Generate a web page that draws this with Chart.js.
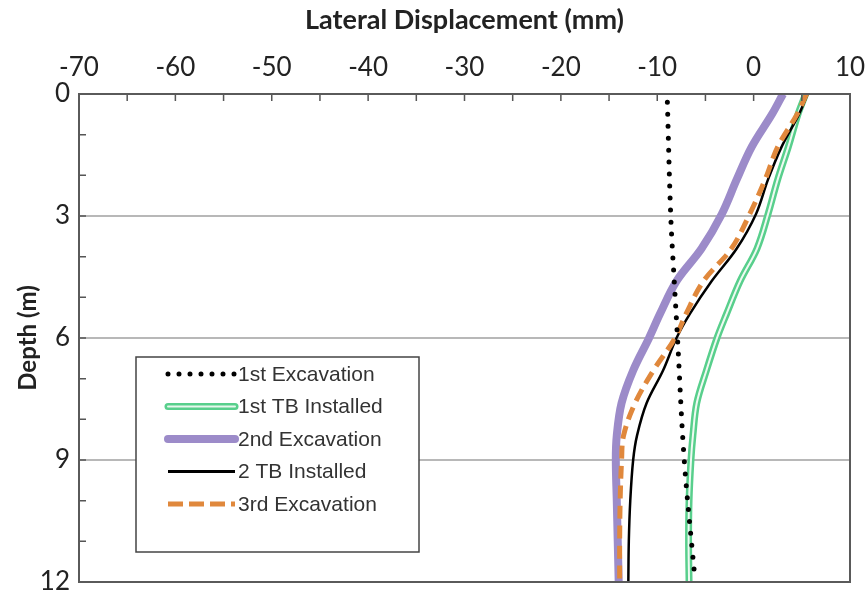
<!DOCTYPE html>
<html>
<head>
<meta charset="utf-8">
<script src="https://cdn.jsdelivr.net/npm/chart.js@4.4.1/dist/chart.umd.min.js"></script>
<style>
  body { margin: 0; background: #fff; }
  #wrap { width: 868px; height: 594px; }
</style>
</head>
<body>
<div id="wrap"><canvas id="profileChart" width="868" height="594"></canvas></div>
<script>
// depth (m) shared by the four measured curves
const depths = [0, 0.5, 1.3, 2.1, 2.95, 3.8, 4.6, 5.4, 6, 6.8, 7.6, 8.4, 9, 10, 11, 12];

const tbInstalled1 = [5.4, 4.6, 3.6, 2.5, 1.5, 0.35, -1.4, -2.8, -3.8, -4.9, -5.9, -6.3, -6.5, -6.7, -6.75, -6.7];
const excavation2 = [3.05, 1.9, -0.2, -1.75, -3.3, -5.4, -8.0, -9.7, -10.85, -12.5, -13.7, -14.2, -14.3, -14.2, -14.1, -14.0];
const tbInstalled2 = [5.6, 4.7, 2.9, 1.5, 0.25, -1.75, -4.35, -6.6, -8.0, -9.4, -11.1, -12.1, -12.5, -12.8, -12.95, -13.0];
const excavation3 = [5.5, 4.5, 2.5, 1.2, -0.4, -2.3, -5.2, -7.0, -8.15, -10.4, -12.3, -13.5, -13.7, -13.85, -13.9, -13.9];

// 1st excavation was read at its own depths
const exc1Depths = [0.2, 3, 4.75, 6, 9, 11.9];
const excavation1 = [-8.95, -8.6, -8.2, -7.9, -7.2, -6.1];

const xTicks = [-70, -60, -50, -40, -30, -20, -10, 0, 10];
const yTicks = [0, 3, 6, 9, 12];

const GREEN = "#58cf8c";
const PURPLE = "#9c8bc9";
const ORANGE = "#e0883c";

function pairs(xs, ys) {
  return xs.map((v, i) => ({ x: v, y: ys[i] }));
}

const legendItems = [
  { label: "1st Excavation", kind: "dots" },
  { label: "1st TB Installed", kind: "double" },
  { label: "2nd Excavation", kind: "thick" },
  { label: "2 TB Installed", kind: "solid" },
  { label: "3rd Excavation", kind: "dash" },
];

function strokeSample(ctx, kind, x0, x1, y) {
  ctx.save();
  ctx.beginPath();
  ctx.moveTo(x0, y);
  ctx.lineTo(x1, y);
  if (kind === "dots") {
    ctx.strokeStyle = "#000";
    ctx.lineWidth = 5;
    ctx.lineCap = "round";
    ctx.setLineDash([0, 11]);
    ctx.stroke();
  } else if (kind === "double") {
    ctx.lineCap = "round";
    ctx.strokeStyle = GREEN;
    ctx.lineWidth = 7;
    ctx.stroke();
    ctx.strokeStyle = "#e8f8ee";
    ctx.lineWidth = 2;
    ctx.stroke();
  } else if (kind === "thick") {
    ctx.lineCap = "round";
    ctx.strokeStyle = PURPLE;
    ctx.lineWidth = 8;
    ctx.stroke();
  } else if (kind === "solid") {
    ctx.strokeStyle = "#000";
    ctx.lineWidth = 3;
    ctx.stroke();
  } else {
    ctx.strokeStyle = ORANGE;
    ctx.lineWidth = 5;
    ctx.setLineDash([15, 6]);
    ctx.stroke();
  }
  ctx.restore();
}

const frameAndLegend = {
  id: "frameAndLegend",
  afterDraw(chart) {
    const ctx = chart.ctx;
    const area = chart.chartArea;
    const xs = chart.scales.x;
    const ys = chart.scales.y;

    ctx.save();
    // inward minor ticks
    ctx.strokeStyle = "#555";
    ctx.lineWidth = 1.5;
    ctx.beginPath();
    for (let v = -70; v <= 10; v += 5) {
      const px = xs.getPixelForValue(v);
      ctx.moveTo(px, area.top);
      ctx.lineTo(px, area.top + 7);
    }
    for (let d = 0; d <= 12; d += 1) {
      const py = ys.getPixelForValue(d);
      ctx.moveTo(area.left, py);
      ctx.lineTo(area.left + 7, py);
    }
    ctx.stroke();

    // plot frame
    ctx.strokeStyle = "#5a5a5a";
    ctx.lineWidth = 2;
    ctx.strokeRect(area.left, area.top, area.right - area.left, area.bottom - area.top);

    // legend box
    const bx = 136, by = 357, bw = 283, bh = 195;
    ctx.fillStyle = "#fff";
    ctx.fillRect(bx, by, bw, bh);
    ctx.strokeStyle = "#444";
    ctx.lineWidth = 1.5;
    ctx.strokeRect(bx, by, bw, bh);

    ctx.font = "21px 'Liberation Sans', Arial, sans-serif";
    ctx.fillStyle = "#333";
    ctx.textBaseline = "middle";
    legendItems.forEach((item, i) => {
      const y = 374 + i * 32.5;
      strokeSample(ctx, item.kind, 168, 235, y);
      ctx.fillText(item.label, 238, y + 1);
    });
    ctx.restore();
  },
};

const ctx = document.getElementById("profileChart").getContext("2d");

new Chart(ctx, {
  type: "scatter",
  data: {
    datasets: [
      {
        label: "1st Excavation",
        data: pairs(excavation1, exc1Depths),
        borderColor: "#000",
        borderWidth: 5,
        borderCapStyle: "round",
        borderDash: [0, 12],
        order: 0,
      },
      {
        label: "3rd Excavation",
        data: pairs(excavation3, depths),
        borderColor: ORANGE,
        borderWidth: 5,
        borderDash: [13, 7],
        order: 1,
      },
      {
        label: "2 TB Installed",
        data: pairs(tbInstalled2, depths),
        borderColor: "#000",
        borderWidth: 2.5,
        order: 2,
      },
      {
        label: "1st TB Installed (core)",
        data: pairs(tbInstalled1, depths),
        borderColor: "#eefaf2",
        borderWidth: 2,
        order: 3,
      },
      {
        label: "1st TB Installed",
        data: pairs(tbInstalled1, depths),
        borderColor: GREEN,
        borderWidth: 7,
        order: 4,
      },
      {
        label: "2nd Excavation",
        data: pairs(excavation2, depths),
        borderColor: PURPLE,
        borderWidth: 8,
        order: 5,
      },
    ].map((ds) => Object.assign(ds, {
      showLine: true,
      pointRadius: 0,
      pointHoverRadius: 0,
      tension: 0.35,
      fill: false,
    })),
  },
  options: {
    responsive: false,
    animation: false,
    layout: { padding: { top: 0, left: 0, right: 18, bottom: 12 } },
    plugins: {
      legend: { display: false },
      tooltip: { enabled: false },
    },
    scales: {
      x: {
        type: "linear",
        position: "top",
        min: -70,
        max: 10,
        afterBuildTicks: (scale) => {
          scale.ticks = xTicks.map((v) => ({ value: v }));
        },
        afterFit: (scale) => {
          scale.height = 94;
          scale.paddingLeft = 0;
          scale.paddingRight = 0;
        },
        ticks: {
          padding: 11,
          color: "#222",
          font: { family: "Lato, sans-serif", size: 26 },
        },
        grid: { drawOnChartArea: false, drawTicks: false },
        border: { color: "#5a5a5a", width: 2 },
        title: {
          display: true,
          text: "Lateral Displacement (mm)",
          color: "#222",
          font: { family: "Lato, sans-serif", size: 27, weight: "bold" },
          padding: { top: 4, bottom: 0 },
        },
      },
      y: {
        type: "linear",
        reverse: true,
        min: 0,
        max: 12,
        afterBuildTicks: (scale) => {
          scale.ticks = yTicks.map((v) => ({ value: v }));
        },
        afterFit: (scale) => {
          scale.width = 79;
          scale.paddingTop = 0;
          scale.paddingBottom = 0;
        },
        ticks: {
          padding: 9,
          color: "#222",
          font: { family: "Lato, sans-serif", size: 26 },
        },
        grid: { color: "#b8b8b8", lineWidth: 2, drawTicks: false },
        border: { color: "#5a5a5a", width: 2 },
        title: {
          display: true,
          text: "Depth (m)",
          color: "#222",
          font: { family: "Lato, sans-serif", size: 24, weight: "bold" },
          padding: { top: 14, bottom: 0 },
        },
      },
    },
  },
  plugins: [frameAndLegend],
});
</script>
</body>
</html>
